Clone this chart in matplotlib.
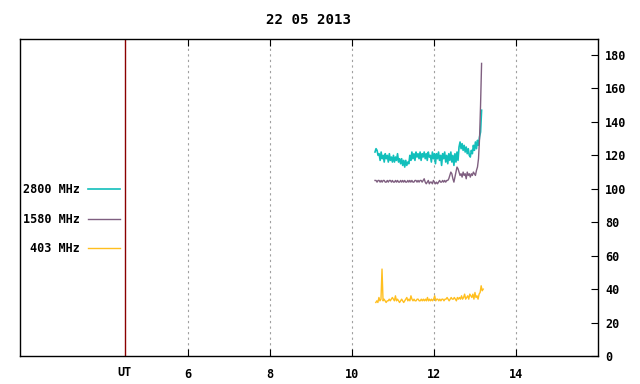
import numpy as np
import matplotlib.pyplot as plt

# hourly range of the record (UT) and hand-read flux values
t_start, t_end = 10.56, 13.16

flux_2800 = [122, 124, 123, 120,
             121, 117, 122, 118, 120, 116, 121, 118, 120, 116, 121, 117, 119, 116,
             120, 116, 119, 117, 121, 116, 118,
             115, 118, 114, 117, 113, 117, 114, 116, 115,
             120, 117, 122, 118, 121, 117, 122, 119, 121, 118, 122, 117, 121, 119, 122, 118,
             121, 117, 122, 119, 120, 116, 122, 118, 121, 115, 121, 118, 122, 117, 120, 114,
             121, 118, 122, 116, 120, 115, 121, 117, 122, 116, 120, 114, 121, 116, 122, 117,
             125, 128, 124, 127, 123, 126, 122, 125, 121, 124, 120,
             119, 123, 121,
             126, 123, 128, 124, 129, 126, 131, 134,
             147]

flux_1580 = [105, 105, 104, 105, 105, 104, 105, 104, 105, 105, 104, 104, 105, 104, 105, 105, 104, 105, 104, 104,
             105, 104, 105, 104, 104, 105, 104, 105, 104, 105, 104, 104, 105, 104, 105, 104, 105, 104, 104, 105,
             105, 104, 105, 104, 105, 105, 104, 105, 106, 104, 103, 104, 105, 103, 104, 104, 103, 105, 104, 103,
             104, 103, 104, 105, 104, 104, 105, 104, 105, 104, 105,
             105, 106, 108, 110,
             109, 106, 104,
             107, 110, 113, 112,
             110, 108, 109, 107, 110, 108, 109, 106, 110, 108, 109, 107, 109, 108, 110, 109, 108, 111,
             113, 118, 130, 150, 175]

flux_403 = [32, 33, 32, 35, 33, 34,
            52,
            33, 34, 33, 32,
            33, 33, 34, 33, 34, 35, 34, 33, 36, 33, 34, 33, 32, 33, 34, 33, 32, 33, 34, 35,
            33, 34, 33, 36, 34, 33, 34, 33, 33, 34,
            34, 33, 33, 34, 33, 34, 33, 34, 33, 35, 33, 34, 33, 34, 33, 34, 36, 33, 34, 34,
            33, 34, 33, 34, 34, 33, 34, 34, 35, 34, 33, 34, 35, 34, 34, 35, 34, 33, 35, 34,
            35, 34, 36, 34, 35, 37, 34, 35, 36, 34, 37, 36, 35, 37, 34, 38, 35, 36, 34, 37,
            38, 42, 39, 40]

hour_ticks = [6, 8, 10, 12, 14]
ut_pos = 4.46
y_ticks = list(range(0, 181, 20))

c2800 = '#12bfbb'
c1580 = '#7f5f80'
c403 = '#ffbf1f'

plt.rcParams['font.family'] = 'DejaVu Sans Mono'
plt.rcParams['font.size'] = 8.5
plt.rcParams['font.weight'] = 'bold'

fig = plt.figure(figsize=(6.4, 3.84), dpi=100)
ax = fig.add_axes([20 / 640, 28 / 384, 578 / 640, 317 / 384])

for h in hour_ticks:
    ax.axvline(h, color='#a0a0a0', lw=0.8, ls=(0, (2, 3)), zorder=0)
ax.axvline(ut_pos, color='#8b0000', lw=1.0, zorder=1)

t1 = np.linspace(t_start, t_end, len(flux_2800))
t2 = np.linspace(t_start, t_end, len(flux_1580))
t3 = np.linspace(t_start + 0.02, t_end + 0.04, len(flux_403))

l1, = ax.plot(t1, flux_2800, color=c2800, lw=1.2)
l2, = ax.plot(t2, flux_1580, color=c1580, lw=1.0)
l3, = ax.plot(t3, flux_403, color=c403, lw=1.0)

ax.set_xlim(1.9, 16)
ax.set_ylim(0, 189.6)

ax.set_xticks(hour_ticks)
ax.set_xticklabels([str(h) for h in hour_ticks])
ax.tick_params(axis='x', direction='in', length=5, top=True, bottom=True, pad=9)
ax.text(ut_pos, -0.03, 'UT', transform=ax.get_xaxis_transform(),
        ha='center', va='top')

ax.yaxis.tick_right()
ax.set_yticks(y_ticks)
ax.tick_params(axis='y', direction='in', length=5, left=False, right=True, pad=5)

for s in ax.spines.values():
    s.set_linewidth(1.0)
    s.set_color('black')

ax.set_title('22 05 2013', pad=11, fontweight='bold')

ax.legend([l1, l2, l3], ['2800 MHz', '1580 MHz', '403 MHz'],
          loc='upper right', bbox_to_anchor=(0.173, 0.545),
          frameon=False, markerfirst=False, borderaxespad=0, borderpad=0,
          handlelength=2.7, handletextpad=0.7, labelspacing=1.4)

fig.savefig('out.png', dpi=100)
